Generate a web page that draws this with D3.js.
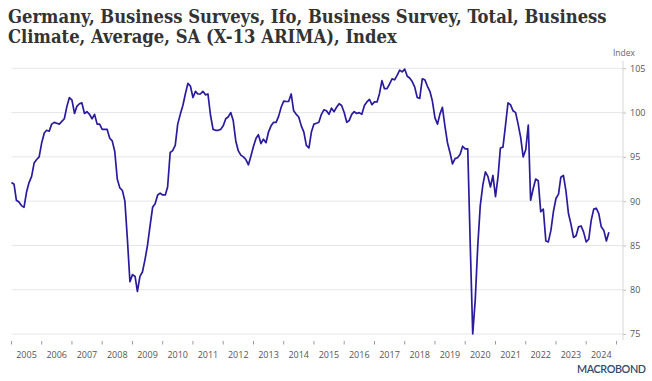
<!DOCTYPE html>
<html>
<head>
<meta charset="utf-8">
<script src="https://cdn.jsdelivr.net/npm/d3@7"></script>
<style>
  html, body { margin: 0; padding: 0; background: #ffffff; }
  svg { display: block; }
</style>
</head>
<body>
<script>
// ---------------- DATA ----------------
const titleLines = [
  "Germany, Business Surveys, Ifo, Business Survey, Total, Business",
  "Climate, Average, SA (X-13 ARIMA), Index"
];
const unitLabel = "Index";
const startYear = 2005;   // first observation: January 2005, monthly
const values = [
  // 2005
  92.1, 91.9, 90.1, 89.9, 89.5, 89.3, 91.0, 92.1, 92.8, 94.3, 94.7, 95.0,
  // 2006
  96.6, 97.7, 98.0, 97.9, 98.7, 98.9, 98.8, 98.7, 99.0, 99.3, 100.7, 101.7,
  // 2007
  101.4, 99.9, 100.7, 101.0, 101.1, 99.9, 100.1, 99.8, 99.3, 99.8, 98.7, 98.7,
  // 2008
  98.1, 98.1, 98.1, 97.1, 96.8, 95.6, 92.5, 91.5, 91.2, 90.0, 85.6, 80.9,
  // 2009
  81.7, 81.5, 79.8, 81.5, 82.0, 83.4, 85.0, 87.2, 89.3, 89.7, 90.7, 90.9,
  // 2010
  90.7, 90.7, 91.6, 95.5, 95.7, 96.3, 98.7, 99.8, 100.8, 102.1, 103.3, 103.0,
  // 2011
  101.7, 102.4, 102.1, 102.1, 102.4, 102.0, 102.1, 99.7, 98.1, 98.0, 98.0, 98.1,
  // 2012
  98.5, 99.3, 99.5, 100.0, 99.1, 96.8, 95.7, 95.2, 95.0, 94.7, 94.1, 95.1,
  // 2013
  96.2, 97.1, 97.5, 96.5, 97.0, 96.6, 97.8, 98.5, 98.9, 98.9, 99.6, 100.6,
  // 2014
  101.3, 101.25, 101.25, 102.1, 100.2, 99.8, 99.5, 98.5, 97.8, 96.3, 96.0, 97.8,
  // 2015
  98.7, 98.8, 98.9, 99.8, 100.3, 100.2, 99.8, 100.5, 100.1, 100.6, 101.0, 100.8,
  // 2016
  100.0, 98.9, 99.1, 99.8, 100.1, 99.9, 100.0, 99.8, 100.8, 101.2, 101.5, 100.9,
  // 2017
  101.2, 101.2, 102.1, 103.6, 102.7, 102.7, 103.2, 103.8, 103.7, 104.2, 104.8, 104.6,
  // 2018
  104.9, 104.1, 103.9, 103.5, 102.9, 101.7, 101.6, 103.8, 103.7, 103.0, 102.4, 101.3,
  // 2019
  99.4, 98.7, 99.8, 100.6, 98.5, 96.6, 95.5, 94.2, 94.8, 94.9, 95.3, 96.2,
  // 2020
  95.9, 95.9, 85.5, 75.0, 78.8, 85.0, 89.5, 91.8, 93.3, 92.8, 91.6, 92.9,
  // 2021
  90.5, 92.8, 96.0, 96.1, 98.5, 101.1, 100.9, 100.2, 100.0, 98.7, 97.2, 95.0,
  // 2022
  95.8, 98.6, 90.1, 91.4, 92.5, 92.3, 88.8, 89.1, 85.5, 85.4, 86.7, 88.8,
  // 2023
  90.3, 90.8, 92.7, 92.9, 91.2, 88.6, 87.4, 85.9, 86.1, 87.1, 87.2, 86.5,
  // 2024
  85.4, 85.7, 87.8, 89.1, 89.2, 88.6, 87.1, 86.7, 85.5, 86.5
];
const yTicks = [75, 80, 85, 90, 95, 100, 105];
const yearLabels = [2005, 2006, 2007, 2008, 2009, 2010, 2011, 2012, 2013, 2014,
                    2015, 2016, 2017, 2018, 2019, 2020, 2021, 2022, 2023, 2024];
const yearTicks = [2005, 2006, 2007, 2008, 2009, 2010, 2011, 2012, 2013, 2014,
                   2015, 2016, 2017, 2018, 2019, 2020, 2021, 2022, 2023, 2024, 2025];

// ---------------- LAYOUT ----------------
const W = 652, H = 381;
const plotLeft = 11.5, plotRight = 623, plotTop = 61, plotBottom = 340;

const svg = d3.select("body").append("svg")
  .attr("width", W).attr("height", H)
  .attr("viewBox", `0 0 ${W} ${H}`);

const series = values.map((v, i) => ({ date: new Date(startYear, i, 1), value: v }));

const x = d3.scaleTime()
  .domain([new Date(2005, 0, 1), new Date(2025, 0, 1)])
  .range([11.5, 616.5]);
const y = d3.scaleLinear().domain([75, 105]).range([334, 68.3]);

// Title
const titleFont = "'DejaVu Serif Condensed', 'DejaVu Serif', serif";
const title = svg.append("g");
const t1 = title.append("text").attr("x", 8).attr("y", 23)
  .attr("font-family", titleFont).attr("font-weight", "bold")
  .attr("font-stretch", "condensed")
  .attr("font-size", 18).attr("fill", "#333333").text(titleLines[0]);
const len = t1.node().getComputedTextLength();
const fs = Math.min(19, 18 * 599 / len);
t1.attr("font-size", fs);
title.append("text").attr("x", 8).attr("y", 43)
  .attr("font-family", titleFont).attr("font-weight", "bold")
  .attr("font-stretch", "condensed")
  .attr("font-size", fs).attr("fill", "#333333").text(titleLines[1]);

const tickFont = "'Open Sans', 'Noto Sans', sans-serif";

// Gridlines
svg.append("g").selectAll("line").data(yTicks).join("line")
  .attr("x1", plotLeft).attr("x2", plotRight)
  .attr("y1", d => y(d)).attr("y2", d => y(d))
  .attr("stroke", "#e6e6e6").attr("stroke-width", 1);

// Right axis
const yAxis = d3.axisRight(y).tickValues(yTicks).tickSize(3).tickPadding(4)
  .tickFormat(d3.format("d"));
const ya = svg.append("g").attr("transform", `translate(${plotRight},0)`).call(yAxis);
ya.select(".domain").remove();
ya.append("line").attr("x1", 0).attr("x2", 0).attr("y1", plotTop).attr("y2", plotBottom)
  .attr("stroke", "#d6d6d6");
ya.selectAll(".tick line").attr("stroke", "#bdbdbd");
ya.selectAll(".tick text").attr("font-family", tickFont).attr("font-size", 9)
  .attr("fill", "#555555");

svg.append("text").attr("x", 635).attr("y", 56).attr("text-anchor", "end")
  .attr("font-family", tickFont).attr("font-size", 8.5).attr("fill", "#666666")
  .text(unitLabel);

// X axis ticks (year boundaries) and labels (mid-year)
const xa = svg.append("g");
xa.selectAll("line").data(yearTicks).join("line")
  .attr("x1", d => x(new Date(d, 0, 1))).attr("x2", d => x(new Date(d, 0, 1)))
  .attr("y1", 341).attr("y2", 344.5)
  .attr("stroke", "#9a9a9a").attr("stroke-width", 1);
xa.selectAll("text").data(yearLabels).join("text")
  .attr("x", d => x(new Date(d, 6, 1)))
  .attr("y", 357.5)
  .attr("text-anchor", "middle")
  .attr("font-family", tickFont).attr("font-size", 9).attr("fill", "#555555")
  .text(d => d);

// Line
const line = d3.line().x(d => x(d.date)).y(d => y(d.value));
svg.append("path").datum(series)
  .attr("d", line)
  .attr("fill", "none")
  .attr("stroke", "#2a1b9e")
  .attr("stroke-width", 1.7)
  .attr("stroke-linejoin", "round");

// Logo
svg.append("text").attr("x", 577).attr("y", 372.5)
  .attr("font-family", "Lato, 'Open Sans', sans-serif").attr("font-weight", 600)
  .attr("font-size", 10.8).attr("fill", "#2f4a6d")
  .attr("textLength", 69).attr("lengthAdjust", "spacing")
  .text("MACROBOND");
</script>
</body>
</html>
